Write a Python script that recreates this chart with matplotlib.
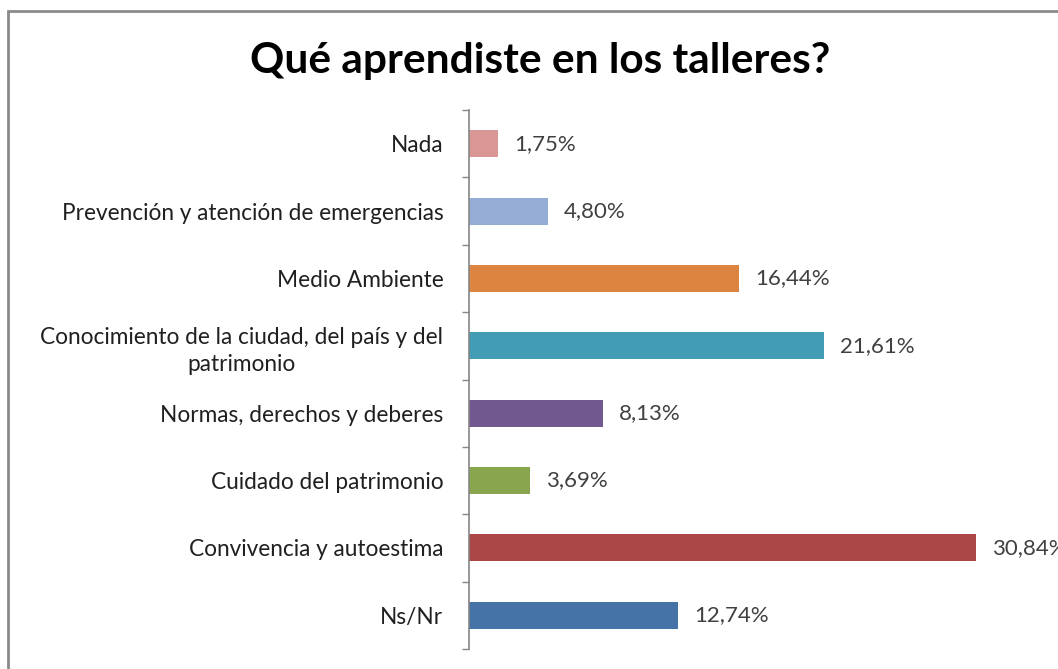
import matplotlib
matplotlib.use("Agg")
import matplotlib.pyplot as plt
from matplotlib.patches import Rectangle
import numpy as np

categories = [
    "Nada",
    "Prevención y atención de emergencias",
    "Medio Ambiente",
    "Conocimiento de la ciudad, del país y del\npatrimonio",
    "Normas, derechos y deberes",
    "Cuidado del patrimonio",
    "Convivencia y autoestima",
    "Ns/Nr",
]
values = [1.75, 4.80, 16.44, 21.61, 8.13, 3.69, 30.84, 12.74]
value_labels = ["1,75%", "4,80%", "16,44%", "21,61%", "8,13%", "3,69%", "30,84%", "12,74%"]
colors = ["#D99694", "#95ADD5", "#DD8440", "#429CB3", "#71588F", "#89A54E", "#AA4643", "#4572A7"]
title = "Qué aprendiste en los talleres?"

W, H = 1058, 669
fig = plt.figure(figsize=(W / 100, H / 100), dpi=100)
fig.patch.set_facecolor("white")

# chart border (extends beyond right/bottom edge)
fig.patches.append(Rectangle((8 / W, -0.1), 1.2, (H - 11) / H + 0.1, transform=fig.transFigure,
                             fill=False, edgecolor="#8A8A8A", linewidth=2))

ax = fig.add_axes([469 / W, 1 - 649 / H, (1044 - 469) / W, (649 - 110) / H])
n = len(categories)
ypos = np.arange(n)
ax.barh(ypos, values, height=0.4, color=colors, edgecolor="none")
ax.set_ylim(n - 0.5, -0.5)
ax.set_xlim(0, 35)

for y, v, lab in zip(ypos, values, value_labels):
    ax.annotate(lab, (v, y), xytext=(16, 0), textcoords="offset pixels",
                va="center", ha="left", fontsize=16, color="#404040", family="Lato")

ax.set_yticks(ypos)
ax.set_yticklabels(categories, fontsize=16.3, color="#202020", family="Lato")
for t in ax.get_yticklabels():
    t.set_multialignment("center")
    t.set_linespacing(1.35)
ax.tick_params(axis="y", which="major", length=0, pad=18.5)
ax.set_yticks(np.arange(n + 1) - 0.5, minor=True)
ax.tick_params(axis="y", which="minor", length=5, width=1, color="#868686", direction="out")
ax.set_xticks([])
for s in ["top", "right", "bottom"]:
    ax.spines[s].set_visible(False)
ax.spines["left"].set_color("#868686")
ax.spines["left"].set_linewidth(1.2)

fig.text(540 / W, 1 - 61 / H, title, ha="center", va="center", fontsize=30.5,
         fontweight="bold", family="Lato", color="black")

fig.savefig("out.png", dpi=100, facecolor="white")
